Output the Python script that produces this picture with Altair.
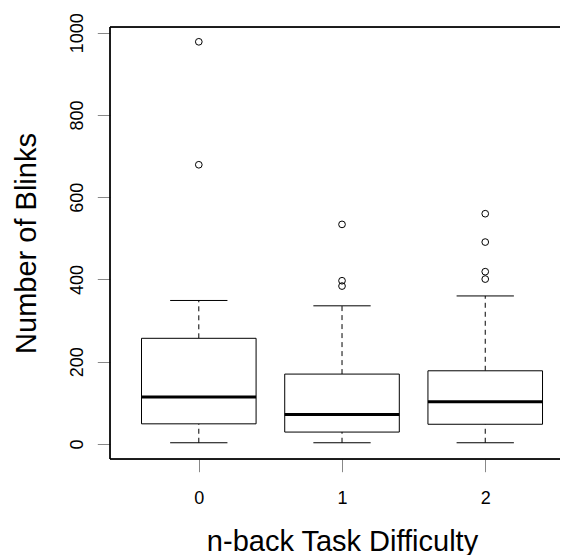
import altair as alt
import pandas as pd

# Data
levels = [0, 1, 2]
lower_whisker = [3, 3, 3]
q1 = [49, 29, 48]
median = [114, 72, 103]
q3 = [257, 170, 178]
upper_whisker = [349, 336, 360]

outlier_levels = [0, 0, 1, 1, 1, 2, 2, 2, 2]
outlier_values = [978, 679, 534, 397, 384, 560, 491, 419, 401]

box_df = pd.DataFrame({
    "level": levels,
    "lw": lower_whisker,
    "q1": q1,
    "med": median,
    "q3": q3,
    "uw": upper_whisker,
})
out_df = pd.DataFrame({"level": outlier_levels, "value": outlier_values})

FONT = "Liberation Sans, Arial, sans-serif"

W, H = 450, 432
xscale = alt.Scale(domain=[-0.62, 2.522], nice=False, zero=False)
yscale = alt.Scale(domain=[-36.5, 1014], nice=False, zero=False)

xaxis = alt.Axis(
    title="n-back Task Difficulty", values=[0, 1, 2], format="d", grid=False,
    domain=False, labelFontSize=18, labelBaseline="alphabetic", labelPadding=31.5,
    tickSize=12.7, titleFontSize=29, titleFontWeight="normal",
    titleBaseline="alphabetic", titleY=91, titleX=232,
)
yaxis = alt.Axis(
    title="Number of Blinks", values=[0, 200, 400, 600, 800, 1000], format="d",
    grid=False, domain=False,
    labelFontSize=18, labelAngle=-90, labelAlign="center",
    labelBaseline="alphabetic", labelPadding=15.3, tickSize=12.7,
    titleFontSize=29, titleFontWeight="normal", titleBaseline="alphabetic",
    titleX=-75,
)

base = alt.Chart(box_df).transform_calculate(
    lo="datum.level - 0.4", hi="datum.level + 0.4",
    clo="datum.level - 0.2", chi="datum.level + 0.2",
)

X = lambda f: alt.X(f"{f}:Q", scale=xscale, axis=xaxis)
Y = lambda f: alt.Y(f"{f}:Q", scale=yscale, axis=yaxis)

whisk_up = base.mark_rule(color="black", strokeWidth=1, strokeDash=[5, 4]).encode(
    x=X("level"), y=Y("q3"), y2="uw:Q")
whisk_dn = base.mark_rule(color="black", strokeWidth=1, strokeDash=[5, 4]).encode(
    x=X("level"), y=Y("lw"), y2="q1:Q")
cap_up = base.mark_rule(color="black", strokeWidth=1).encode(
    x=X("clo"), x2="chi:Q", y=Y("uw"))
cap_dn = base.mark_rule(color="black", strokeWidth=1).encode(
    x=X("clo"), x2="chi:Q", y=Y("lw"))
box = base.mark_rect(fill="white", stroke="black", strokeWidth=1).encode(
    x=X("lo"), x2="hi:Q", y=Y("q1"), y2="q3:Q")
med = base.mark_rule(color="black", strokeWidth=3).encode(
    x=X("lo"), x2="hi:Q", y=Y("med"))
pts = alt.Chart(out_df).mark_point(
    shape="circle", filled=False, color="black", size=45, strokeWidth=1, opacity=1
).encode(x=X("level"), y=Y("value"))

# plot frame (top, left, bottom); the right side lies beyond the picture
frame_top = alt.Chart(box_df).mark_rule(color="black", strokeWidth=1).encode(
    x=alt.value(0), x2=alt.value(W + 10), y=alt.value(0))
frame_bot = alt.Chart(box_df).mark_rule(color="black", strokeWidth=1).encode(
    x=alt.value(0), x2=alt.value(W + 10), y=alt.value(H))
frame_left = alt.Chart(box_df).mark_rule(color="black", strokeWidth=1).encode(
    x=alt.value(0), y=alt.value(0), y2=alt.value(H))

chart = alt.layer(
    whisk_up, whisk_dn, cap_up, cap_dn, box, med, pts,
    frame_top, frame_bot, frame_left,
).properties(
    width=W, height=H,
    autosize=alt.AutoSizeParams(type="none"),
    padding={"left": 102, "top": 19, "right": 0, "bottom": 100},
).configure_view(
    strokeWidth=0
).configure_axis(
    domain=False, grid=False, tickColor="black", labelColor="black",
    titleColor="black", labelFont=FONT, titleFont=FONT,
).configure(background="white")

chart.save("out.html", embed_options={"renderer": "svg", "actions": False})
